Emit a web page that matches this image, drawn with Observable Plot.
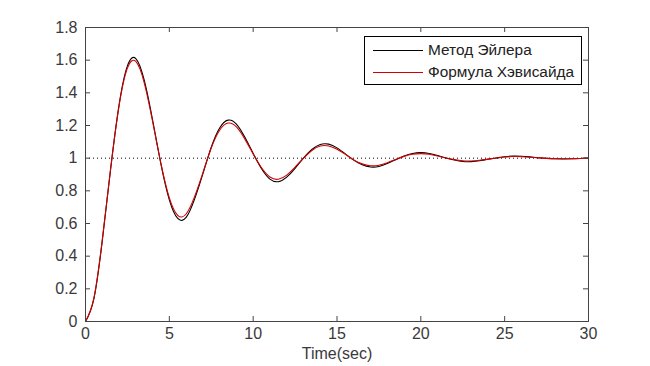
<!DOCTYPE html>
<html><head><meta charset="utf-8">
<script src="https://cdn.jsdelivr.net/npm/d3@7"></script>
<script src="https://cdn.jsdelivr.net/npm/@observablehq/plot@0.6"></script>
<style>
body{margin:0;background:#fff;font-family:"Liberation Sans",Arial,sans-serif;}
#wrap{position:relative;width:650px;height:366px;}
#legend{position:absolute;left:364px;top:36px;width:216px;height:47px;border:1px solid #000;background:#fff;font-size:15.4px;color:#222;}
.row{position:absolute;left:8px;height:18px;display:flex;align-items:center;white-space:nowrap;}
.sw{width:50px;height:0;border-top:1px solid #000;margin-right:5px;}
</style></head>
<body><div id="wrap"><div id="legend"></div></div>
<script>
const t = d3.range(0, 30.01, 0.5);
const euler = [0,0.139,0.494,0.935,1.325,1.565,1.610,1.479,1.235,0.964,0.745,0.631,0.637,0.748,0.904,1.067,1.185,1.233,1.209,1.129,1.029,0.935,0.872,0.856,0.884,0.938,1.000,1.053,1.084,1.086,1.063,1.026,0.988,0.959,0.946,0.949,0.967,0.991,1.013,1.029,1.034,1.029,1.016,1.001,0.989,0.980,0.979,0.984,0.993,1.001,1.009,1.013,1.012,1.008,1.003,0.999,0.996,0.995,0.996,0.998,1.000];
const heaviside = [0,0.143,0.499,0.936,1.319,1.551,1.592,1.463,1.226,0.966,0.757,0.650,0.658,0.763,0.910,1.062,1.171,1.215,1.192,1.118,1.026,0.941,0.885,0.871,0.896,0.945,1.000,1.047,1.074,1.075,1.055,1.023,0.989,0.965,0.954,0.957,0.972,0.992,1.011,1.024,1.028,1.024,1.013,1.001,0.991,0.984,0.983,0.987,0.994,1.001,1.007,1.010,1.009,1.006,1.002,0.999,0.997,0.996,0.997,0.998,1.000];
const seriesNames = ["Метод Эйлера","Формула Хэвисайда"];
const seriesColors = ["#000000","#d40000"];
const xTicks = [0,5,10,15,20,25,30];
const yTicks = [0,0.2,0.4,0.6,0.8,1,1.2,1.4,1.6,1.8];
const refLine = [1];

const rows = [];
t.forEach((x,i)=>{rows.push({t:x,y:euler[i],s:seriesNames[0]});});
t.forEach((x,i)=>{rows.push({t:x,y:heaviside[i],s:seriesNames[1]});});

const W=650,H=366,mL=85,mR=62,mT=27,mB=45;
const pw=W-mL-mR, ph=H-mT-mB, tl=5, axc="#444";
const plot = Plot.plot({
  width:W,height:H,marginLeft:mL,marginRight:mR,marginTop:mT,marginBottom:mB,
  style:{fontFamily:"Liberation Sans, Arial, sans-serif",fontSize:"16px",color:"#3a3a3a",background:"#fff"},
  x:{domain:[0,30]},
  y:{domain:[0,1.8]},
  color:{domain:seriesNames,range:seriesColors},
  marks:[
    Plot.ruleY(refLine,{stroke:"#000",strokeDasharray:"1,3",strokeWidth:1}),
    Plot.line(rows,{x:"t",y:"y",z:"s",stroke:"s",curve:"natural",strokeWidth:1.1}),
    Plot.frame({stroke:axc}),
    Plot.tickX(xTicks,{x:d=>d,stroke:axc,insetBottom:ph-tl}),
    Plot.tickX(xTicks,{x:d=>d,stroke:axc,insetTop:ph-tl}),
    Plot.tickY(yTicks,{y:d=>d,stroke:axc,insetRight:pw-tl}),
    Plot.tickY(yTicks,{y:d=>d,stroke:axc,insetLeft:pw-tl}),
    Plot.axisX(xTicks,{tickSize:0,tickPadding:6,label:null,fill:"#3a3a3a",fontSize:16}),
    Plot.axisY(yTicks,{tickSize:0,tickPadding:8,label:null,fill:"#3a3a3a",fontSize:16,tickFormat:d=>String(d)}),
    Plot.text(["Time(sec)"],{frameAnchor:"bottom",dy:37,fill:"#3a3a3a",fontSize:16})
  ]
});
document.getElementById("wrap").prepend(plot);
plot.style.position="absolute";plot.style.left="0";plot.style.top="0";
const lg=document.getElementById("legend");
seriesNames.forEach((n,i)=>{
  const r=document.createElement("div");r.className="row";r.style.top=(4+i*22)+"px";
  const s=document.createElement("span");s.className="sw";s.style.borderTopColor=seriesColors[i];
  const tx=document.createElement("span");tx.textContent=n;
  r.append(s,tx);lg.append(r);
});
</script></body></html>
